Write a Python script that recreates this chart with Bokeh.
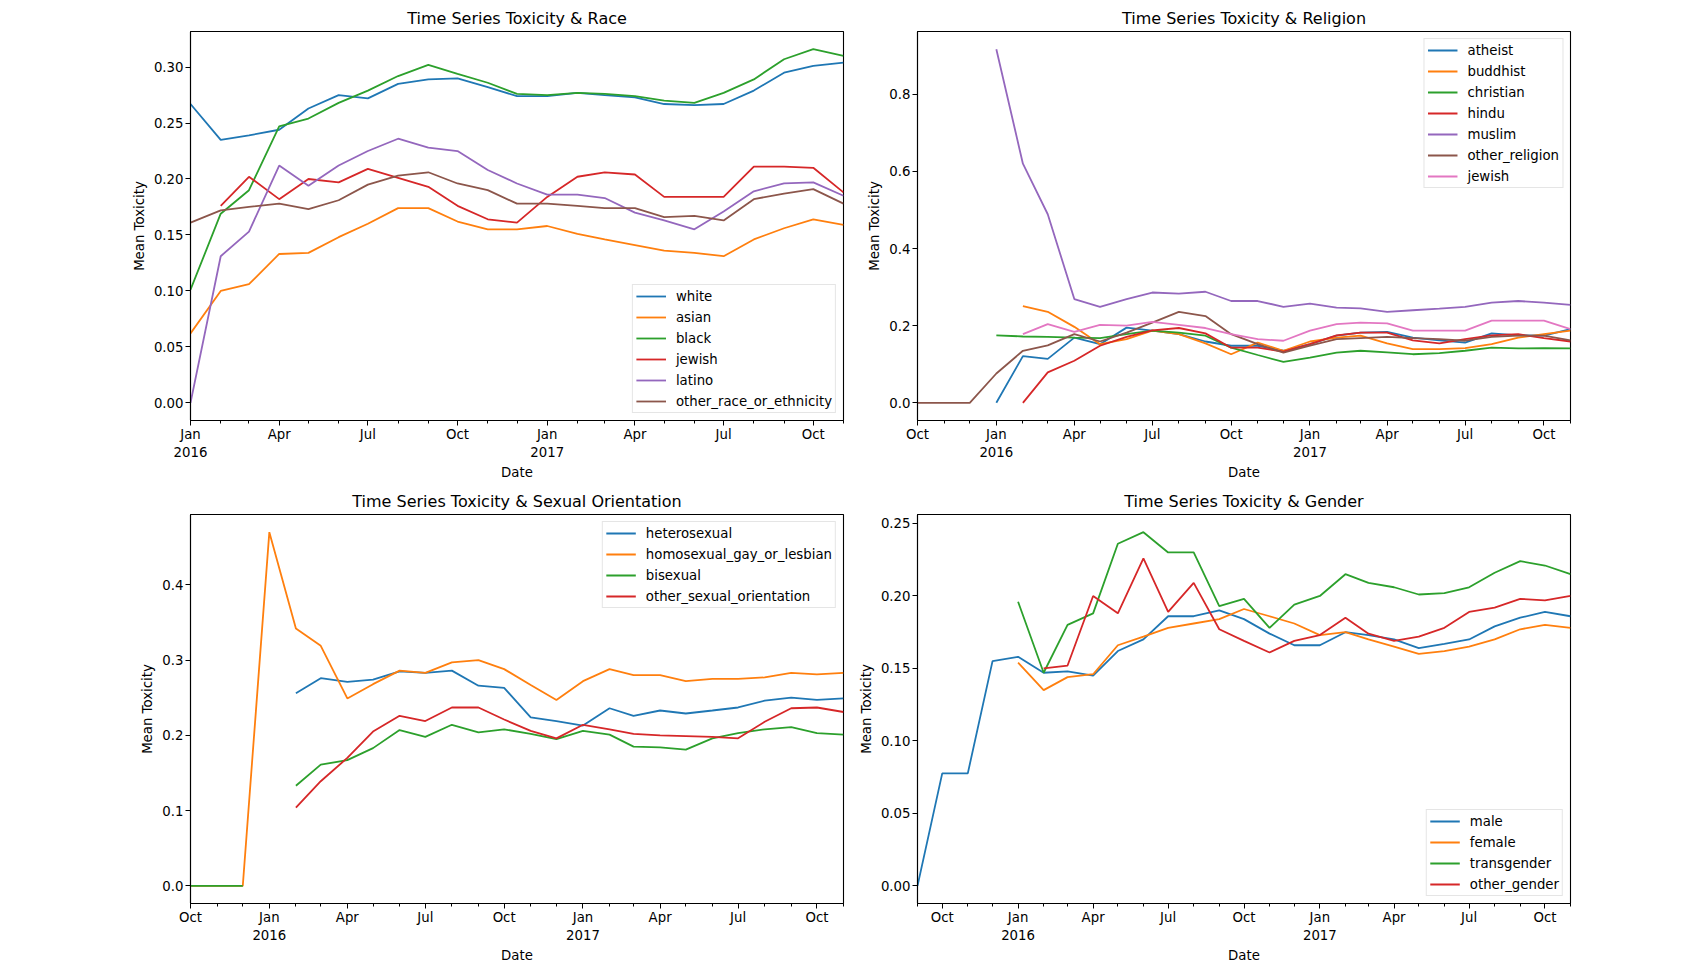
import numpy as np
import pandas as pd
from bokeh.plotting import figure
from bokeh.layouts import column, row
from bokeh.models import FixedTicker, CustomJSTickFormatter, NumeralTickFormatter, Range1d
from bokeh.embed import file_html
from bokeh.resources import INLINE

nan = np.nan
FONT = "DejaVu Sans"
COLORS = ["#1f77b4", "#ff7f0e", "#2ca02c", "#d62728", "#9467bd", "#8c564b", "#e377c2"]

# monthly means
race_months = pd.date_range("2016-01-01", "2017-11-01", freq="MS")
white = [0.267, 0.235, 0.239, 0.244, 0.263, 0.275, 0.272, 0.285, 0.289, 0.290, 0.282, 0.274,
         0.274, 0.277, 0.275, 0.273, 0.267, 0.266, 0.267, 0.279, 0.295, 0.301, 0.304]
asian = [0.062, 0.100, 0.106, 0.133, 0.134, 0.148, 0.160, 0.174, 0.174, 0.162, 0.155, 0.155,
         0.158, 0.151, 0.146, 0.141, 0.136, 0.134, 0.131, 0.146, 0.156, 0.164, 0.159]
black = [0.101, 0.169, 0.190, 0.247, 0.254, 0.268, 0.279, 0.292, 0.302, 0.294, 0.286, 0.276,
         0.275, 0.277, 0.276, 0.274, 0.270, 0.268, 0.277, 0.289, 0.307, 0.316, 0.310]
jewish_race = [nan, 0.176, 0.202, 0.182, 0.200, 0.197, 0.209, 0.201, 0.193, 0.176, 0.164, 0.161,
               0.184, 0.202, 0.206, 0.204, 0.184, 0.184, 0.184, 0.211, 0.211, 0.210, 0.188]
latino = [0.000, 0.131, 0.153, 0.212, 0.194, 0.212, 0.225, 0.236, 0.228, 0.225, 0.208, 0.196,
          0.186, 0.186, 0.183, 0.170, 0.163, 0.155, 0.171, 0.189, 0.196, 0.197, 0.185]
other_race = [0.161, 0.172, 0.175, 0.178, 0.173, 0.181, 0.195, 0.203, 0.206, 0.196, 0.190, 0.178,
              0.178, 0.176, 0.174, 0.174, 0.166, 0.167, 0.163, 0.182, 0.187, 0.191, 0.178]

religion_months = pd.date_range("2015-10-01", "2017-11-01", freq="MS")
atheist = [nan, nan, nan,
           0.000, 0.121, 0.114, 0.169, 0.152, 0.195, 0.187, 0.178, 0.159, 0.148, 0.148, 0.135,
           0.152, 0.174, 0.182, 0.184, 0.169, 0.162, 0.156, 0.180, 0.175, 0.174, 0.191]
buddhist = [nan, nan, nan,
            nan, 0.251, 0.236, 0.197, 0.152, 0.165, 0.187, 0.178, 0.154, 0.126, 0.156, 0.135,
            0.159, 0.169, 0.174, 0.154, 0.139, 0.139, 0.142, 0.152, 0.169, 0.178, 0.187]
christian = [nan, nan, nan,
             0.175, 0.172, 0.171, 0.169, 0.168, 0.178, 0.187, 0.182, 0.174, 0.143, 0.124, 0.106,
             0.117, 0.130, 0.135, 0.131, 0.126, 0.129, 0.135, 0.143, 0.141, 0.142, 0.141]
hindu = [nan, nan, nan,
         nan, 0.000, 0.079, 0.109, 0.148, 0.171, 0.188, 0.194, 0.180, 0.143, 0.143, 0.133,
         0.152, 0.175, 0.182, 0.182, 0.162, 0.154, 0.165, 0.175, 0.178, 0.168, 0.159]
muslim = [nan, nan, nan,
          0.917, 0.620, 0.489, 0.269, 0.249, 0.269, 0.286, 0.283, 0.288, 0.264, 0.264, 0.249,
          0.257, 0.247, 0.245, 0.236, 0.240, 0.244, 0.249, 0.260, 0.264, 0.260, 0.254]
other_religion = [0.000, 0.000, 0.000,
                  0.076, 0.135, 0.149, 0.178, 0.159, 0.182, 0.208, 0.236, 0.225, 0.178, 0.152, 0.130,
                  0.148, 0.165, 0.168, 0.171, 0.168, 0.165, 0.161, 0.171, 0.174, 0.174, 0.162]
jewish_rel = [nan, nan, nan,
              nan, 0.178, 0.204, 0.184, 0.202, 0.200, 0.210, 0.202, 0.194, 0.178, 0.165, 0.161,
              0.187, 0.204, 0.208, 0.206, 0.187, 0.187, 0.187, 0.213, 0.213, 0.213, 0.191]

sexual_months = pd.date_range("2015-10-01", "2017-11-01", freq="MS")
heterosexual = [nan, nan, nan,
                nan, 0.256, 0.276, 0.271, 0.274, 0.285, 0.283, 0.286, 0.266, 0.263, 0.224, 0.219,
                0.213, 0.236, 0.226, 0.233, 0.229, 0.233, 0.237, 0.246, 0.250, 0.247, 0.249]
homosexual = [0.000, 0.000, 0.000,
              0.470, 0.342, 0.319, 0.249, 0.268, 0.286, 0.283, 0.297, 0.300, 0.288, 0.267, 0.247,
              0.272, 0.288, 0.280, 0.280, 0.272, 0.275, 0.275, 0.277, 0.283, 0.281, 0.283]
bisexual = [0.000, 0.000, 0.000,
            nan, 0.133, 0.161, 0.167, 0.183, 0.207, 0.198, 0.214, 0.204, 0.208, 0.202, 0.195,
            0.206, 0.201, 0.185, 0.184, 0.181, 0.196, 0.203, 0.208, 0.211, 0.203, 0.201]
other_sexual = [nan, nan, nan,
                nan, 0.104, 0.139, 0.170, 0.205, 0.226, 0.219, 0.237, 0.237, 0.221, 0.206, 0.196,
                0.214, 0.208, 0.202, 0.200, 0.199, 0.198, 0.196, 0.218, 0.236, 0.237, 0.231]

gender_months = pd.date_range("2015-09-01", "2017-11-01", freq="MS")
male = [0.000, 0.0776, 0.0776, 0.155,
        0.158, 0.147, 0.148, 0.145, 0.162, 0.170, 0.186, 0.186, 0.190, 0.184, 0.174, 0.166,
        0.166, 0.175, 0.173, 0.170, 0.164, 0.167, 0.170, 0.179, 0.185, 0.189, 0.186]
female = [nan, nan, nan, nan,
          0.154, 0.135, 0.144, 0.146, 0.166, 0.172, 0.178, 0.181, 0.184, 0.191, 0.186, 0.181,
          0.173, 0.175, 0.170, 0.165, 0.160, 0.162, 0.165, 0.170, 0.177, 0.180, 0.178]
transgender = [nan, nan, nan, nan,
               0.196, 0.147, 0.180, 0.188, 0.236, 0.244, 0.230, 0.230, 0.193, 0.198, 0.178, 0.194,
               0.200, 0.215, 0.209, 0.206, 0.201, 0.202, 0.206, 0.216, 0.224, 0.221, 0.215]
other_gender = [nan, nan, nan, nan,
                nan, 0.150, 0.152, 0.200, 0.188, 0.226, 0.189, 0.209, 0.177, 0.169, 0.161, 0.169,
                0.173, 0.185, 0.174, 0.169, 0.172, 0.178, 0.189, 0.192, 0.198, 0.197, 0.200]

month_fmt = CustomJSTickFormatter(code="""
const names = ["Jan","Feb","Mar","Apr","May","Jun","Jul","Aug","Sep","Oct","Nov","Dec"];
const d = new Date(tick);
const m = d.getUTCMonth();
return m == 0 ? names[m] + "\\n" + d.getUTCFullYear() : names[m];
""")


def panel(title, dates, series, yticks, yfmt, legend_loc, width, height, borders):
    ms = [d.value / 1e6 for d in dates]
    major = [t for d, t in zip(dates, ms) if d.month in (1, 4, 7, 10)]
    top = max(np.nanmax(v) for _, v in series)
    pad = 0.05 * top
    p = figure(width=width, height=height, x_axis_type="datetime",
               x_range=Range1d(dates[0], dates[-1]), y_range=Range1d(-pad, top + pad),
               output_backend="svg", toolbar_location=None,
               min_border_left=borders[0], min_border_right=borders[1],
               min_border_top=borders[2], min_border_bottom=borders[3])
    for i, (name, vals) in enumerate(series):
        p.line(dates, vals, line_width=1.8, color=COLORS[i], legend_label=name)

    p.title.text = title
    p.title.align = "center"
    p.title.text_font = FONT
    p.title.text_font_size = "16px"
    p.title.text_font_style = "normal"
    p.title.text_color = "black"
    p.title.standoff = 8

    p.xgrid.visible = False
    p.ygrid.visible = False
    p.outline_line_color = "black"
    p.outline_line_alpha = 1
    p.outline_line_width = 1.1

    p.xaxis.ticker = FixedTicker(ticks=major, minor_ticks=ms)
    p.xaxis.formatter = month_fmt
    p.yaxis.ticker = FixedTicker(ticks=yticks)
    p.yaxis.formatter = NumeralTickFormatter(format=yfmt)
    p.xaxis.axis_label = "Date"
    p.yaxis.axis_label = "Mean Toxicity"
    for ax in (p.xaxis[0], p.yaxis[0]):
        ax.axis_line_color = "black"
        ax.axis_line_width = 1.1
        ax.major_tick_line_color = "black"
        ax.minor_tick_line_color = "black"
        ax.major_tick_in = 0
        ax.major_tick_out = 5
        ax.minor_tick_in = 0
        ax.minor_tick_out = 3
        ax.major_label_text_font = FONT
        ax.major_label_text_font_size = "13.3px"
        ax.major_label_text_color = "black"
        ax.major_label_standoff = 2
        ax.axis_label_text_font = FONT
        ax.axis_label_text_font_size = "13.3px"
        ax.axis_label_text_font_style = "normal"
        ax.axis_label_text_color = "black"
        ax.axis_label_standoff = 4
    p.xaxis.major_label_standoff = 1
    p.xaxis.axis_label_standoff = 2
    p.yaxis.minor_tick_out = 0

    lg = p.legend[0]
    lg.location = legend_loc
    lg.label_text_font = FONT
    lg.label_text_font_size = "13.3px"
    lg.label_text_color = "black"
    lg.glyph_width = 30
    lg.glyph_height = 16
    lg.label_height = 16
    lg.label_standoff = 10
    lg.spacing = 5
    lg.padding = 3
    lg.margin = 7
    lg.border_line_color = "#cccccc"
    lg.background_fill_alpha = 0.8
    return p


p1 = panel("Time Series Toxicity & Race", race_months,
           [("white", white), ("asian", asian), ("black", black), ("jewish", jewish_race),
            ("latino", latino), ("other_race_or_ethnicity", other_race)],
           [0, 0.05, 0.10, 0.15, 0.20, 0.25, 0.30], "0.00", "bottom_right",
           853, 482, (190, 10, 31, 62))
p2 = panel("Time Series Toxicity & Religion", religion_months,
           [("atheist", atheist), ("buddhist", buddhist), ("christian", christian),
            ("hindu", hindu), ("muslim", muslim), ("other_religion", other_religion),
            ("jewish", jewish_rel)],
           [0, 0.2, 0.4, 0.6, 0.8], "0.0", "top_right",
           727, 482, (64, 10, 31, 62))
p3 = panel("Time Series Toxicity & Sexual Orientation", sexual_months,
           [("heterosexual", heterosexual), ("homosexual_gay_or_lesbian", homosexual),
            ("bisexual", bisexual), ("other_sexual_orientation", other_sexual)],
           [0, 0.1, 0.2, 0.3, 0.4], "0.0", "top_right",
           853, 483, (190, 10, 32, 62))
p4 = panel("Time Series Toxicity & Gender", gender_months,
           [("male", male), ("female", female), ("transgender", transgender),
            ("other_gender", other_gender)],
           [0, 0.05, 0.10, 0.15, 0.20, 0.25], "0.00", "bottom_right",
           727, 483, (64, 10, 32, 62))

layout = column(row(p1, p2), row(p3, p4))
open("out.html", "w").write(file_html(layout, INLINE))
